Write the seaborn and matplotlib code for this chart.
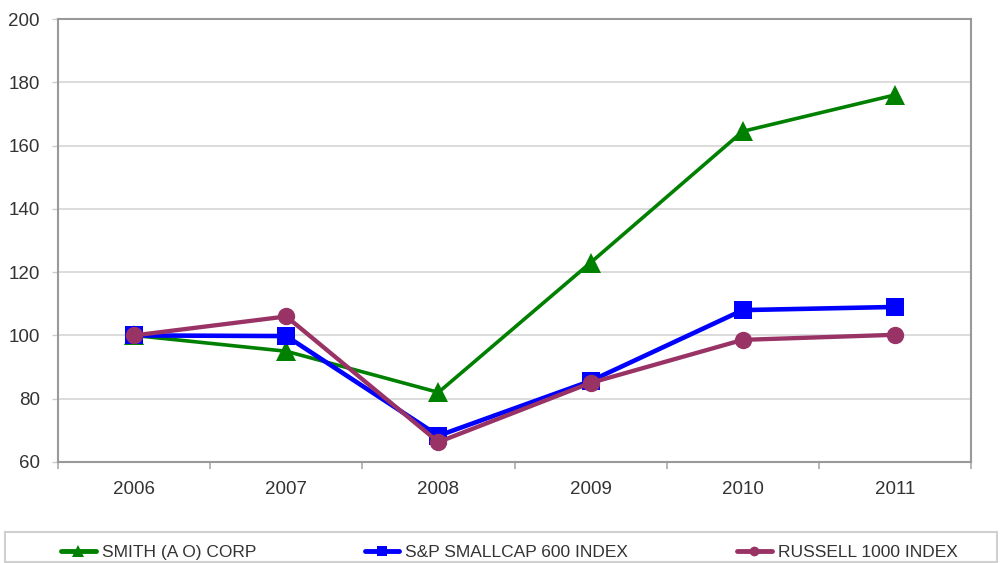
import matplotlib
matplotlib.use("Agg")
import matplotlib.pyplot as plt
import seaborn as sns
import pandas as pd
import numpy as np
from matplotlib.lines import Line2D
from matplotlib.patches import Rectangle

years = ["2006", "2007", "2008", "2009", "2010", "2011"]
smith = [100, 95, 82, 123, 164.5, 176]
sp600 = [100, 99.8, 68.3, 85.6, 108, 109]
russell = [100, 106, 66.3, 85, 98.6, 100.2]
series_names = ["SMITH (A O) CORP", "S&P SMALLCAP 600 INDEX", "RUSSELL 1000 INDEX"]
y_ticks = [60, 80, 100, 120, 140, 160, 180, 200]

sns.set_theme(style="white")
plt.rcParams["font.family"] = ["Liberation Sans", "DejaVu Sans"]

fig = plt.figure(figsize=(10.02, 5.63), dpi=100)
ax = fig.add_axes([58 / 1002, 1 - 462 / 563, (971 - 58) / 1002, (462 - 19) / 563])

pos = np.arange(len(years))
styles = [
    dict(color="#008000", marker="^", markersize=14, linewidth=2.6),
    dict(color="#0000FF", marker="s", markersize=13, linewidth=3.3),
    dict(color="#993366", marker="o", markersize=12.5, linewidth=3.1),
]
for vals, st in zip([smith, sp600, russell], styles):
    sns.lineplot(x=pos, y=vals, ax=ax, color=st["color"], marker=st["marker"],
                 markersize=st["markersize"], linewidth=st["linewidth"],
                 markeredgecolor=st["color"], markeredgewidth=0, zorder=3)

ax.set_xlim(-0.5, len(years) - 0.5)
ax.set_ylim(60, 200)
ax.set_yticks(y_ticks)
ax.set_yticklabels([str(v) for v in y_ticks])
ax.set_xticks(pos)
ax.set_xticklabels(years)
ax.set_xticks(np.arange(-0.5, len(years) + 0.5, 1.0), minor=True)
ax.tick_params(axis="x", which="major", length=0, pad=14, labelsize=13.5, labelcolor="#333333")
ax.tick_params(axis="x", which="minor", length=5, width=1.2, color="#aaaaaa", direction="out", bottom=True)
ax.tick_params(axis="y", which="major", length=4, width=1.0, color="#cccccc", pad=9,
               labelsize=13.5, labelcolor="#333333", left=True)
ax.grid(axis="y", color="#d9d9d9", linewidth=1.3)
ax.grid(axis="x", visible=False)
for sp in ax.spines.values():
    sp.set_visible(True)
    sp.set_color("#999999")
    sp.set_linewidth(1.5)
ax.set_xlabel("")
ax.set_ylabel("")

# legend box
fig.patches.append(Rectangle((5 / 1002, 1 - 562 / 563), (997 - 5) / 1002, 30 / 563,
                             transform=fig.transFigure, fill=False,
                             edgecolor="#d0d0d0", linewidth=1.5))
handles = [
    Line2D([], [], color="#008000", marker="^", markersize=8, linewidth=3.5, markeredgewidth=0),
    Line2D([], [], color="#0000FF", marker="s", markersize=7, linewidth=3.5, markeredgewidth=0),
    Line2D([], [], color="#993366", marker="o", markersize=7, linewidth=3.5, markeredgewidth=0),
]
fig.legend(handles, series_names, loc="center left",
           bbox_to_anchor=(61 / 1002, 1 - 552 / 563), ncol=3, frameon=False,
           fontsize=12.5, handlelength=2.0, handletextpad=0.35, columnspacing=6.25,
           borderpad=0, borderaxespad=0, labelcolor="#333333")

fig.savefig("out.png", dpi=100)
